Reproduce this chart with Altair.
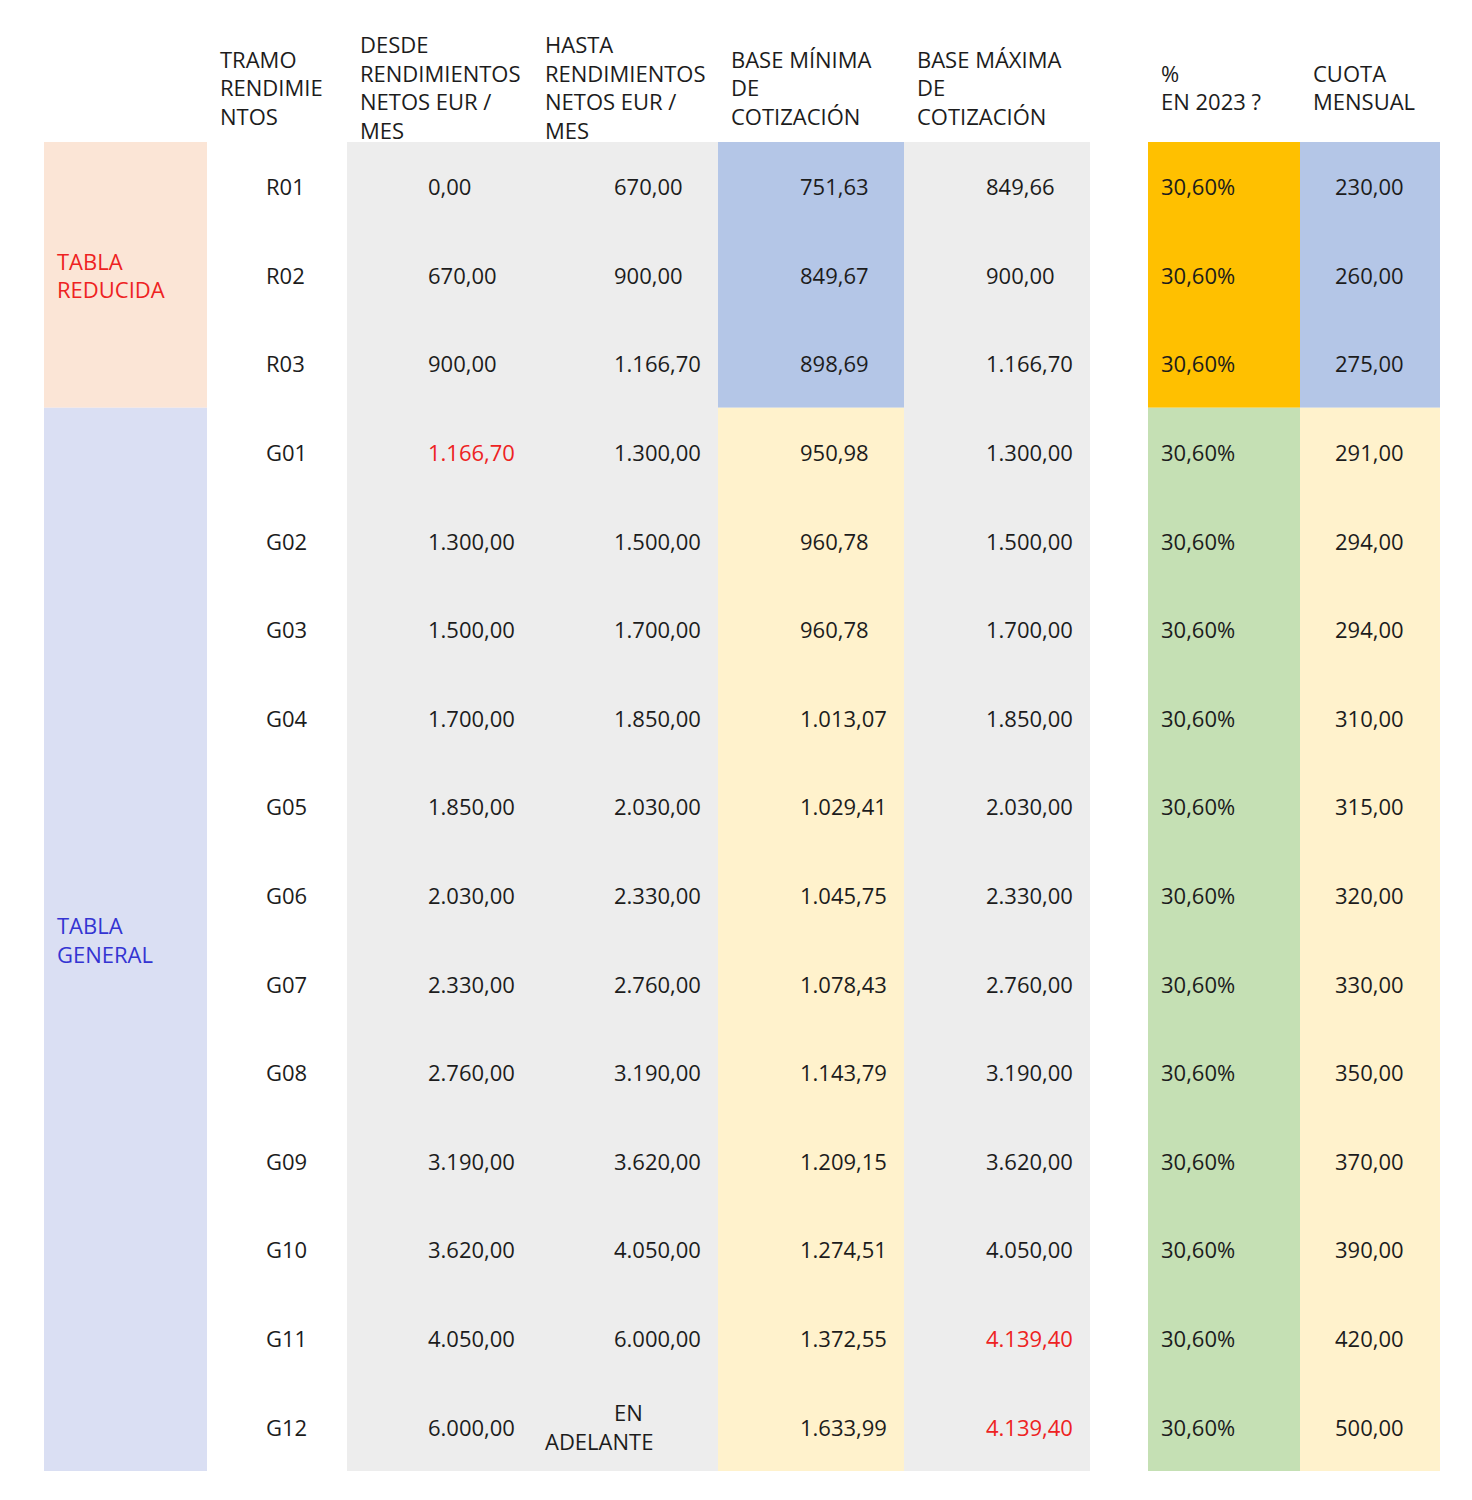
import altair as alt
import pandas as pd

# ---------------- data ----------------
tramos = ["R01", "R02", "R03", "G01", "G02", "G03", "G04", "G05", "G06",
          "G07", "G08", "G09", "G10", "G11", "G12"]
desde = ["0,00", "670,00", "900,00", "1.166,70", "1.300,00", "1.500,00",
         "1.700,00", "1.850,00", "2.030,00", "2.330,00", "2.760,00",
         "3.190,00", "3.620,00", "4.050,00", "6.000,00"]
hasta = ["670,00", "900,00", "1.166,70", "1.300,00", "1.500,00", "1.700,00",
         "1.850,00", "2.030,00", "2.330,00", "2.760,00", "3.190,00",
         "3.620,00", "4.050,00", "6.000,00", "EN ADELANTE"]
base_min = ["751,63", "849,67", "898,69", "950,98", "960,78", "960,78",
            "1.013,07", "1.029,41", "1.045,75", "1.078,43", "1.143,79",
            "1.209,15", "1.274,51", "1.372,55", "1.633,99"]
base_max = ["849,66", "900,00", "1.166,70", "1.300,00", "1.500,00",
            "1.700,00", "1.850,00", "2.030,00", "2.330,00", "2.760,00",
            "3.190,00", "3.620,00", "4.050,00", "4.139,40", "4.139,40"]
pct = ["30,60%", "30,60%", "30,60%", "30,60%", "30,60%", "30,60%",
       "30,60%", "30,60%", "30,60%", "30,60%", "30,60%", "30,60%",
       "30,60%", "30,60%", "30,60%"]
cuota = ["230,00", "260,00", "275,00", "291,00", "294,00", "294,00",
         "310,00", "315,00", "320,00", "330,00", "350,00", "370,00",
         "390,00", "420,00", "500,00"]
headers = ["TRAMO\nRENDIMIE\nNTOS",
           "DESDE\nRENDIMIENTOS\nNETOS EUR /\nMES",
           "HASTA\nRENDIMIENTOS\nNETOS EUR /\nMES",
           "BASE MÍNIMA\nDE\nCOTIZACIÓN",
           "BASE MÁXIMA\nDE\nCOTIZACIÓN",
           "%\nEN 2023 ?",
           "CUOTA\nMENSUAL"]
groups = ["TABLA\nREDUCIDA", "TABLA\nGENERAL"]
group_rows = [3, 12]
red_cells = [("desde", 3), ("base_max", 13), ("base_max", 14)]

# ---------------- layout / style ----------------
FONT = "Open Sans"
FS = 22
TXT = "#1c1c1c"
RED = "#EE2222"
BLUE_TXT = "#3434D2"
C_PEACH, C_LAV = "#FBE5D6", "#DADFF3"
C_GRAY, C_BLUE, C_YEL = "#EDEDED", "#B4C6E7", "#FFF2CC"
C_ORANGE, C_GREEN = "#FFC000", "#C5E0B4"

ROW_PX = 88.6
LH_PX = 28.5
LH = LH_PX / ROW_PX  # line height in row units
DY = 2

# column edges (page px)
E = {"grp": (44, 207), "tramo": (207, 347), "desde": (347, 533),
     "hasta": (533, 718), "bmin": (718, 904), "bmax": (904, 1090),
     "pct": (1148, 1300), "cuota": (1300, 1440)}
# text anchors (left aligned)
TX = {"tramo": 266, "desde": 428, "hasta": 614, "bmin": 800,
      "bmax": 986, "pct": 1161, "cuota": 1335}
HX = [220, 360, 545, 731, 917, 1161, 1313]
GX = 57
HEADER_ROW = -1.12

n = len(tramos)
nr = group_rows[0]
W, H = 1456, 1484
X_DOM = [8, 1464]
Y_DOM = [-2.012, 14.737]


def first_line_row(center, text):
    k = text.count("\n")
    return center - k / 2 * LH


# ---------------- cell backgrounds ----------------
rects = []
def add(col, r0, r1, color):
    rects.append({"x": E[col][0], "x2": E[col][1], "y": r0 - 0.5,
                  "y2": r1 - 0.5, "c": color})

add("grp", 0, nr, C_PEACH)
add("grp", nr, n, C_LAV)
rects.append({"x": E["desde"][0], "x2": E["hasta"][1], "y": -0.5,
              "y2": n - 0.5, "c": C_GRAY})
add("bmin", 0, nr, C_BLUE)
add("bmin", nr, n, C_YEL)
add("bmax", 0, n, C_GRAY)
add("pct", 0, nr, C_ORANGE)
add("pct", nr, n, C_GREEN)
add("cuota", 0, nr, C_BLUE)
add("cuota", nr, n, C_YEL)
rect_df = pd.DataFrame(rects)

# ---------------- texts ----------------
texts = []
cols = [("tramo", tramos, "tramo"), ("desde", desde, "desde"),
        ("hasta", hasta, "hasta"), ("bmin", base_min, "base_min"),
        ("bmax", base_max, "base_max"), ("pct", pct, "pct"),
        ("cuota", cuota, "cuota")]
for key, values, name in cols:
    for i, v in enumerate(values):
        color = RED if (name, i) in red_cells else TXT
        if v == "EN ADELANTE":
            texts.append({"t": "EN", "x": TX[key], "y": i - LH / 2, "c": color})
            texts.append({"t": "ADELANTE", "x": 545, "y": i + LH / 2, "c": color})
        else:
            texts.append({"t": v, "x": TX[key], "y": i, "c": color})
text_df = pd.DataFrame(texts)

head_df = pd.DataFrame({
    "t": headers,
    "x": HX,
    "y": [first_line_row(HEADER_ROW, h) for h in headers],
})

grp_centers = [(nr - 1) / 2, nr + (group_rows[1] - 1) / 2]
grp_df = pd.DataFrame({
    "t": groups,
    "x": [GX, GX],
    "y": [first_line_row(c, g) for c, g in zip(grp_centers, groups)],
    "c": [RED, BLUE_TXT],
})

xs = alt.Scale(domain=X_DOM, range=[0, W], nice=False, zero=False)
ys = alt.Scale(domain=Y_DOM, reverse=True, nice=False, zero=False)

rect_layer = alt.Chart(rect_df).mark_rect(strokeWidth=0).encode(
    x=alt.X("x:Q", scale=xs, axis=None),
    x2="x2:Q",
    y=alt.Y("y:Q", scale=ys, axis=None),
    y2="y2:Q",
    color=alt.Color("c:N", scale=None),
)

text_layer = alt.Chart(text_df).mark_text(
    align="left", baseline="middle", font=FONT, fontSize=FS, dy=DY
).encode(
    x=alt.X("x:Q", scale=xs, axis=None),
    y=alt.Y("y:Q", scale=ys, axis=None),
    text="t:N",
    color=alt.Color("c:N", scale=None),
)

head_layer = alt.Chart(head_df).mark_text(
    align="left", baseline="middle", font=FONT, fontSize=FS, dy=DY,
    lineBreak="\n", lineHeight=LH_PX, color=TXT
).encode(
    x=alt.X("x:Q", scale=xs, axis=None),
    y=alt.Y("y:Q", scale=ys, axis=None),
    text="t:N",
)

grp_layer = alt.Chart(grp_df).mark_text(
    align="left", baseline="middle", font=FONT, fontSize=FS, dy=DY,
    lineBreak="\n", lineHeight=LH_PX
).encode(
    x=alt.X("x:Q", scale=xs, axis=None),
    y=alt.Y("y:Q", scale=ys, axis=None),
    text="t:N",
    color=alt.Color("c:N", scale=None),
)

chart = alt.layer(rect_layer, text_layer, head_layer, grp_layer).properties(
    width=W, height=H, padding=0, autosize="none", background="white"
).configure_view(stroke=None)

chart.save("out.html", embed_options={"renderer": "svg", "actions": False})
